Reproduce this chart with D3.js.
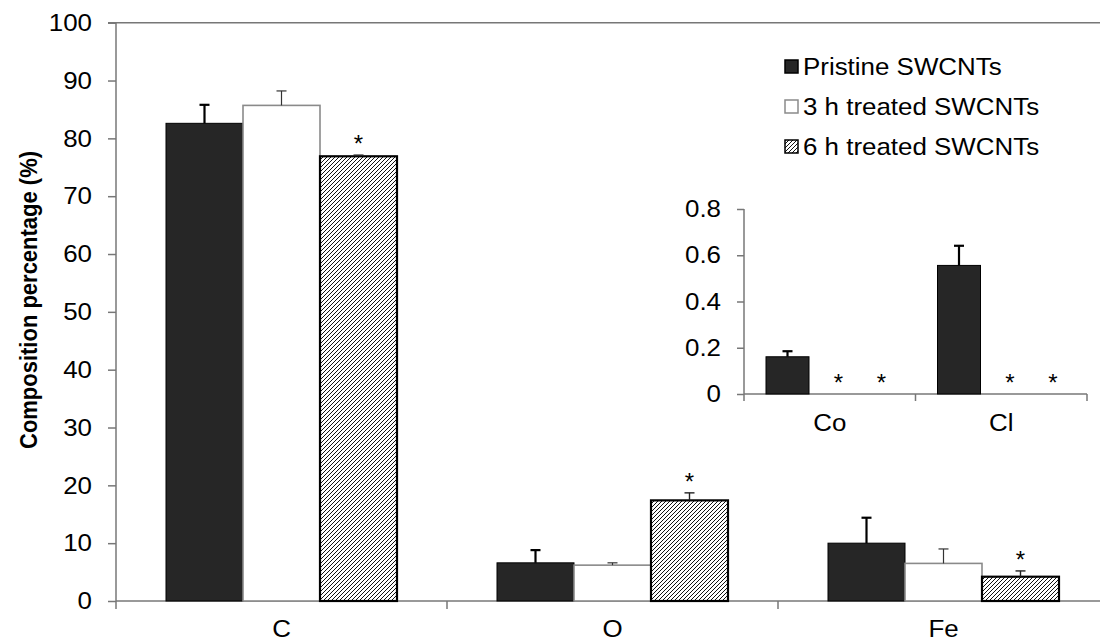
<!DOCTYPE html>
<html>
<head>
<meta charset="utf-8">
<script src="https://cdn.jsdelivr.net/npm/d3@7"></script>
<style>
  body { margin: 0; background: #fff; }
  text { font-family: "Liberation Sans", Arial, sans-serif; fill: #000; }
</style>
</head>
<body>
<div id="chart"></div>
<script>
"use strict";
(function() {

const WIDTH = 1100
const HEIGHT = 641

// main chart data (composition %)
const elements = ["C", "O", "Fe"]
const series = ["Pristine SWCNTs", "3 h treated SWCNTs", "6 h treated SWCNTs"]
const pristine = [82.6, 6.6, 10.0]
const pristineErr = [3.2, 2.2, 4.4]
const treated3h = [85.7, 6.2, 6.5]
const treated3hErr = [2.5, 0.4, 2.5]
const treated6h = [76.9, 17.4, 4.2]
const treated6hErr = [0.2, 1.3, 1.0]
const yTicks = [0, 10, 20, 30, 40, 50, 60, 70, 80, 90, 100]

// inset data
const insetElements = ["Co", "Cl"]
const insetPristine = [0.161, 0.556]
const insetPristineErr = [0.024, 0.085]
const insetTreated3h = [0, 0]
const insetTreated6h = [0, 0]
const insetTicks = [0, 0.2, 0.4, 0.6, 0.8]

// significance marks (series index that carries a *)
const mainStars = [[2], [2], [2]]
const insetStars = [[1, 2], [1, 2]]

const AXIS = "#777"
const FONT = 24
const SX = 1.08   // the original figure is a little stretched sideways

const main = d3.select("#chart").append("svg")
    .attr("width", WIDTH)
    .attr("height", HEIGHT)

const defs = main.append("defs")
defs.append("pattern")
    .attr("id", "hatch")
    .attr("patternUnits", "userSpaceOnUse")
    .attr("width", 4)
    .attr("height", 4)
  .append("path")
    .attr("d", "M-1,1 l2,-2 M0,4 l4,-4 M3,5 l2,-2")
    .attr("stroke", "#111")
    .attr("stroke-width", 1)

const styles = [
    { fill: "#262626", stroke: "#000", sw: 1, err: "#000", errW: 2.2 },
    { fill: "#fff", stroke: "#8a8a8a", sw: 1.6, err: "#333", errW: 1.2 },
    { fill: "url(#hatch)", stroke: "#000", sw: 2.2, err: "#222", errW: 1.4 }
]

// widen a text around its anchor point
function stretch(sel) {
    sel.each(function() {
        let t = d3.select(this);
        let x = +t.attr("x") || 0;
        let y = +t.attr("y") || 0;
        t.attr("x", 0).attr("y", 0)
            .attr("transform", `translate(${x},${y}) scale(${SX},1)`);
    });
}

function buildRows(cats, vals, errs) {
    return cats.map((c, i) => ({
        cat: c,
        bars: series.map((s, k) => ({ key: s, k: k, value: vals[k][i], err: errs[k][i] }))
    }));
}

function drawBars(g, rows, x, inner, y, stars, starShift) {
    rows.forEach((row, i) => {
        let grp = g.append("g")
            .attr("transform", `translate(${x(row.cat)},0)`);
        row.bars.forEach(b => {
            let st = styles[b.k];
            let cx = inner(b.key) + inner.bandwidth() / 2;
            if (b.value > 0) {
                grp.append("rect")
                    .attr("x", inner(b.key))
                    .attr("y", y(b.value))
                    .attr("width", inner.bandwidth())
                    .attr("height", y(0) - y(b.value))
                    .attr("fill", st.fill)
                    .attr("stroke", st.stroke)
                    .attr("stroke-width", st.sw);
            }
            if (b.err > 0) {
                grp.append("line")
                    .attr("x1", cx).attr("x2", cx)
                    .attr("y1", y(b.value)).attr("y2", y(b.value + b.err))
                    .attr("stroke", st.err).attr("stroke-width", st.errW);
                grp.append("line")
                    .attr("x1", cx - 5).attr("x2", cx + 5)
                    .attr("y1", y(b.value + b.err)).attr("y2", y(b.value + b.err))
                    .attr("stroke", st.err).attr("stroke-width", st.errW);
            }
            if (stars[i].includes(b.k)) {
                grp.append("text")
                    .attr("x", cx + starShift)
                    .attr("y", y(b.value + b.err) - 3)
                    .attr("text-anchor", "middle")
                    .attr("font-size", FONT)
                    .text("*");
            }
        });
    });
}

function drawFrame(x, y, ticks, tickLen, labelY, fmt) {
    // y axis with ticks to the left
    let ya = main.append("g")
        .attr("transform", `translate(${x.range()[0]},0)`)
        .call(d3.axisLeft(y).tickValues(ticks)
            .tickSize(tickLen).tickPadding(16).tickFormat(fmt));
    ya.select(".domain").remove();
    ya.selectAll(".tick line").attr("stroke", AXIS).attr("stroke-width", 1.5);
    ya.selectAll(".tick text")
        .attr("font-size", FONT).attr("font-family", null).attr("fill", "#000")
        .call(stretch);
    main.append("line")
        .attr("x1", x.range()[0]).attr("x2", x.range()[0])
        .attr("y1", y.range()[1]).attr("y2", y.range()[0] + tickLen)
        .attr("stroke", AXIS).attr("stroke-width", 1.5);

    // x axis line, ticks at band edges, labels at band centres
    main.append("line")
        .attr("x1", x.range()[0]).attr("x2", x.range()[1])
        .attr("y1", y(0)).attr("y2", y(0))
        .attr("stroke", AXIS).attr("stroke-width", 1.5);
    x.domain().forEach(c => {
        main.append("line")
            .attr("x1", x(c) + x.bandwidth()).attr("x2", x(c) + x.bandwidth())
            .attr("y1", y(0)).attr("y2", y(0) + tickLen)
            .attr("stroke", AXIS).attr("stroke-width", 1.5);
        main.append("text")
            .attr("x", x(c) + x.bandwidth() / 2)
            .attr("y", y(0) + labelY)
            .attr("text-anchor", "middle")
            .attr("font-size", FONT)
            .text(c)
            .call(stretch);
    });
}

// ---- main chart
let xMain = d3.scaleBand().domain(elements).range([116, 1109])
let yMain = d3.scaleLinear().domain([0, 100]).range([601, 22.7])
let innerMain = d3.scaleBand().domain(series).range([50, 281])

drawFrame(xMain, yMain, yTicks, 8, 36, d3.format("d"))

// top border of the plot area
main.append("line")
    .attr("x1", xMain.range()[0] - 8).attr("x2", WIDTH)
    .attr("y1", yMain(100)).attr("y2", yMain(100))
    .attr("stroke", AXIS).attr("stroke-width", 1.5)

drawBars(main.append("g"),
    buildRows(elements, [pristine, treated3h, treated6h], [pristineErr, treated3hErr, treated6hErr]),
    xMain, innerMain, yMain, mainStars, 0)

main.append("text")
    .attr("transform", `translate(37,300) scale(${SX},1) rotate(-90)`)
    .attr("text-anchor", "middle")
    .attr("font-size", 22)
    .attr("font-weight", "bold")
    .text("Composition percentage (%)")

// ---- inset
let xInset = d3.scaleBand().domain(insetElements).range([744, 1087])
let yInset = d3.scaleLinear().domain([0, 0.8]).range([394, 209])
let innerInset = d3.scaleBand().domain(series).range([22, 151])

drawFrame(xInset, yInset, insetTicks, 7, 37, d => d === 0 ? "0" : d3.format(".1f")(d))

drawBars(main.append("g"),
    buildRows(insetElements, [insetPristine, insetTreated3h, insetTreated6h],
        [insetPristineErr, [0, 0], [0, 0]]),
    xInset, innerInset, yInset, insetStars, 8)

// ---- legend
let legend = main.append("g").attr("transform", "translate(785,0)")
series.forEach((s, k) => {
    let base = 75 + k * 40;
    legend.append("rect")
        .attr("x", 0).attr("y", base - 15)
        .attr("width", 13).attr("height", 13)
        .attr("fill", styles[k].fill)
        .attr("stroke", k === 1 ? "#8a8a8a" : "#000")
        .attr("stroke-width", 1.5);
    legend.append("text")
        .attr("x", 18).attr("y", base)
        .attr("font-size", FONT)
        .text(s)
        .call(stretch);
});

})();
</script>
</body>
</html>
